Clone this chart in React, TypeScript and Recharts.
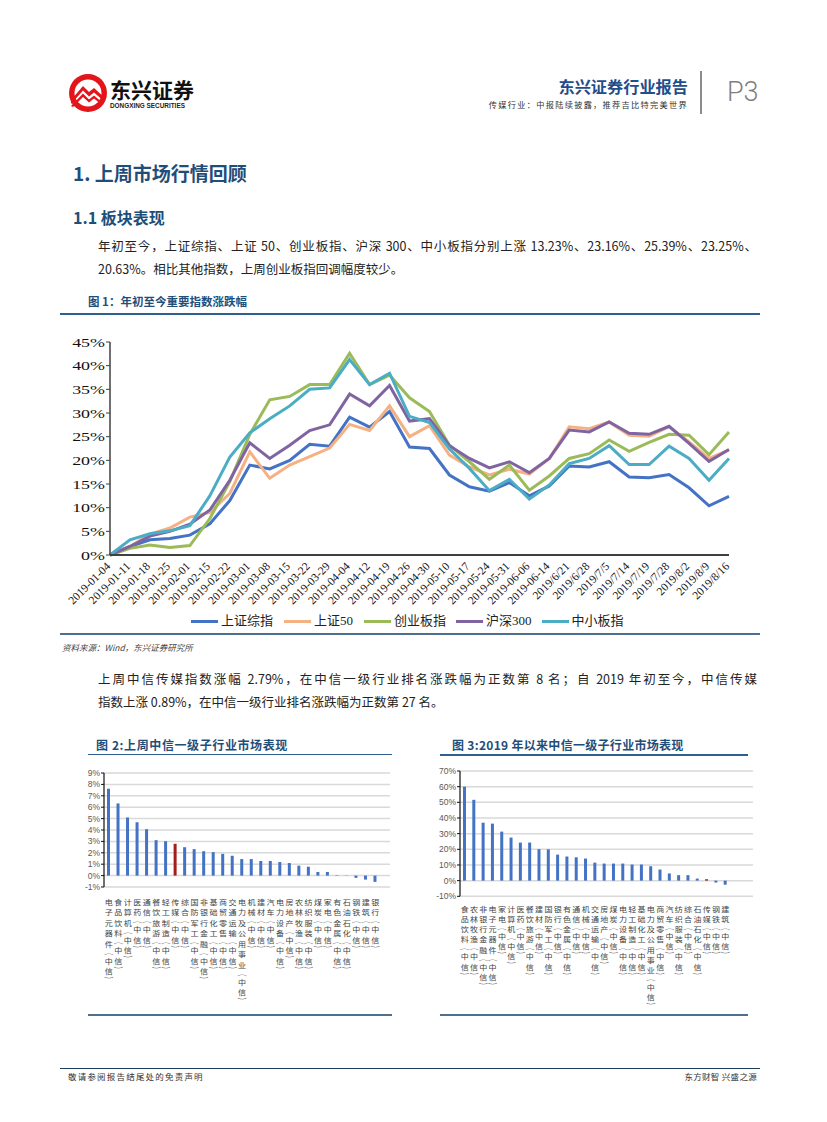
import React from 'react';
import { LineChart, Line, XAxis, YAxis, BarChart, Bar, Cell, CartesianGrid } from 'recharts';

// ---------- Figure 1 data ----------
const dates = [
  '2019-01-04', '2019-01-11', '2019-01-18', '2019-01-25', '2019-02-01', '2019-02-15', '2019-02-22', '2019-03-01',
  '2019-03-08', '2019-03-15', '2019-03-22', '2019-03-29', '2019-04-04', '2019-04-12', '2019-04-19', '2019-04-26',
  '2019-04-30', '2019-05-10', '2019-05-17', '2019-05-24', '2019-05-31', '2019-06-06', '2019-06-14', '2019/6/21',
  '2019/6/28', '2019/7/5', '2019/7/14', '2019/7/19', '2019/7/28', '2019/8/2', '2019/8/9', '2019/8/16',
];
const shComposite = [0, 1.8, 3.2, 3.5, 4.2, 6.6, 11.5, 19.0, 18.2, 20.0, 23.4, 23.0, 29.1, 27.0, 30.3, 22.8, 22.5, 16.9, 14.4, 13.5, 15.3, 12.5, 14.6, 18.8, 18.6, 19.7, 16.5, 16.3, 17.0, 14.2, 10.4, 12.4];
const sse50 = [0, 1.8, 4.4, 5.7, 8.0, 9.0, 13.0, 21.8, 16.2, 19.0, 20.8, 22.6, 27.6, 26.3, 31.5, 25.0, 27.3, 21.1, 18.6, 16.9, 18.1, 17.1, 20.4, 27.1, 26.7, 28.1, 25.3, 25.1, 27.1, 23.9, 20.4, 22.2];
const chinext = [0, 1.4, 2.1, 1.6, 2.0, 7.7, 15.5, 25.5, 32.8, 33.5, 36.0, 36.0, 42.6, 36.0, 38.0, 33.2, 30.3, 23.2, 19.7, 16.0, 19.0, 13.7, 16.7, 20.4, 21.4, 24.3, 21.9, 23.8, 25.5, 25.3, 21.2, 26.0];
const csi300 = [0, 1.8, 4.0, 5.0, 6.5, 9.5, 15.8, 23.7, 20.4, 23.2, 26.3, 27.5, 34.0, 31.5, 35.8, 28.3, 28.8, 23.1, 20.4, 18.4, 19.7, 17.4, 20.4, 26.4, 26.0, 28.1, 25.7, 25.5, 27.2, 23.6, 19.8, 22.3];
const smeIndex = [0, 3.2, 4.5, 5.1, 6.2, 12.5, 20.7, 25.8, 28.8, 31.5, 35.0, 35.3, 41.3, 36.0, 38.4, 29.3, 28.0, 22.4, 18.3, 13.6, 16.0, 11.8, 14.8, 19.3, 20.4, 23.1, 19.1, 19.1, 23.0, 20.4, 15.8, 20.4];

const seriesKeys = ['sh', 'sz50', 'cyb', 'hs300', 'zxb'];
const seriesNames = ['上证综指', '上证50', '创业板指', '沪深300', '中小板指'];
const seriesColors = ['#4472C4', '#F4B183', '#9BBB59', '#8064A2', '#4BACC6'];
const seriesValues = [shComposite, sse50, chinext, csi300, smeIndex];
const mainYTicks = [0, 5, 10, 15, 20, 25, 30, 35, 40, 45];
const mainTickMarks = [0, 2.5, 5, 7.5, 10, 12.5, 15, 17.5, 20, 22.5, 25, 27.5, 30];

// ---------- Figure 2 data ----------
const weekIndustries = ['电子元器件', '食品饮料', '计算机', '医药', '通信', '餐饮旅游', '轻工制造', '传媒', '综合', '国防军工', '非银行金融', '基础化工', '商贸零售', '交通运输', '电力及公用事业', '机械', '建材', '汽车', '电力设备', '房地产', '农林牧渔', '纺织服装', '煤炭', '家电', '有色金属', '石油石化', '钢铁', '建筑', '银行'];
const weekChanges = [7.62, 6.33, 5.1, 4.68, 4.07, 3.11, 3.02, 2.79, 2.49, 2.32, 2.14, 2.06, 1.91, 1.74, 1.45, 1.45, 1.28, 1.28, 1.19, 1.1, 0.87, 0.78, 0.32, 0.32, 0.04, 0.02, -0.2, -0.35, -0.55];
const weekTicks = [-1, 0, 1, 2, 3, 4, 5, 6, 7, 8, 9];

// ---------- Figure 3 data ----------
const ytdIndustries = ['食品饮料', '农林牧渔', '非银行金融', '电子元器件', '家电', '计算机', '医药', '餐饮旅游', '建材', '国防军工', '银行', '有色金属', '通信', '机械', '交通运输', '房地产', '煤炭', '电力设备', '轻工制造', '基础化工', '电力及公用事业', '商贸零售', '汽车', '纺织服装', '综合', '石油石化', '传媒', '钢铁', '建筑'];
const ytdChanges = [60.0, 51.6, 37.0, 36.4, 31.3, 27.5, 24.3, 24.3, 20.1, 20.0, 16.6, 15.4, 14.9, 14.1, 11.5, 10.9, 10.9, 10.9, 10.3, 10.3, 9.2, 7.1, 4.6, 3.5, 3.5, 1.3, 0.89, -1.2, -2.6];
const ytdTicks = [-10, 0, 10, 20, 30, 40, 50, 60, 70];

const highlightIndustry = '传媒';

// ---------- styles ----------
const CJK = '"Noto Sans CJK SC", "Noto Sans", sans-serif';
const SERIF = '"Liberation Serif", "Noto Sans CJK SC", serif';
const SANS = '"Liberation Sans", "Noto Sans CJK SC", sans-serif';
const NAVY = '#1F4E79';
const BAR_BLUE = '#4472C4';
const BAR_RED = '#A31D1D';

const lineData = dates.map((d, i) => {
  const row: any = { date: d };
  seriesKeys.forEach((k, j) => { row[k] = seriesValues[j][i]; });
  return row;
});
const weekData = weekIndustries.map((n, i) => ({ name: n, value: weekChanges[i] }));
const ytdData = ytdIndustries.map((n, i) => ({ name: n, value: ytdChanges[i] }));

function Txt(props: { x?: number; right?: number; y: number; size: number; children: any; style?: any }) {
  const { x, right, y, size, children, style } = props;
  const lh = size * 1.15;
  const pos: any = { position: 'absolute', top: y - lh / 2, height: lh, lineHeight: `${lh}px`, fontSize: size, whiteSpace: 'nowrap', fontFamily: CJK, color: '#222' };
  if (right !== undefined) pos.right = 827 - right; else pos.left = x;
  return <div style={{ ...pos, ...style }}>{children}</div>;
}

function HLine({ x1, x2, y, h, color }: { x1: number; x2: number; y: number; h: number; color: string }) {
  return <div style={{ position: 'absolute', left: x1, top: y - h / 2, width: x2 - x1, height: h, background: color }} />;
}

const DateTick = (props: any) => {
  const { x, y, payload } = props;
  const px = x + 1;
  const py = y + 12;
  return (
    <text x={px} y={py} transform={`rotate(-45 ${px} ${py})`} textAnchor="end" fontFamily={SERIF} fontSize={11.5} fill="#111">
      {payload.value}
    </text>
  );
};

const SerifPctTick = (props: any) => {
  const { x, y, payload } = props;
  return (
    <g transform={`translate(${x},${y}) scale(1.38,1)`}>
      <text x={0} y={0} dy={4.5} textAnchor="end" fontFamily={SERIF} fontSize={13} fill="#111">{payload.value}%</text>
    </g>
  );
};

const SmallPctTick = (props: any) => {
  const { x, y, payload } = props;
  return (
    <text x={x} y={y} dy={3} textAnchor="end" fontFamily={SANS} fontSize={8.5} fill="#595959">{payload.value}%</text>
  );
};

const LABEL_FONT = 7;
const LABEL_SCALE_X = 1.15;

// Category name stacked one character per line (vertical stacked text)
const VerticalLabel = (props: any) => {
  const { x, y, payload, startDy, step } = props;
  const raw = `${payload.value}（中信）`;
  const items: any[] = [];
  let top = y + startDy - step / 2 + 0.2;
  let k = 0;
  for (const ch of raw) {
    if (ch === '（' || ch === '）') {
      const c = top + 3;
      items.push(
        <g key={k++} transform={`translate(${x},${c}) scale(${LABEL_SCALE_X},0.58)`}>
          <text x={0} y={0} textAnchor="middle" dominantBaseline="central" fontFamily={CJK} fontSize={LABEL_FONT + 1} fill="#444">
            {ch === '（' ? '︵' : '︶'}
          </text>
        </g>
      );
      top += 6.5;
      continue;
    }
    const c = top + step / 2 - 0.2;
    items.push(
      <g key={k++} transform={`translate(${x},${c}) scale(${LABEL_SCALE_X},1)`}>
        <text x={0} y={0} textAnchor="middle" dominantBaseline="central" fontFamily={CJK} fontSize={LABEL_FONT} fill="#444">{ch}</text>
      </g>
    );
    top += step;
  }
  return <g>{items}</g>;
};

function IndustryChart(props: { data: any[]; domain: [number, number]; ticks: number[]; width: number; height: number; margin: any; padRight: number; startDy: number; step: number; plotH: number }) {
  const { data, domain, ticks, width, height, margin, padRight, startDy, step, plotH } = props;
  return (
    <BarChart width={width} height={height} data={data} margin={margin} barCategoryGap={0}>
      <CartesianGrid vertical={false} stroke="#D9D9D9" strokeWidth={1.5} />
      <XAxis
        dataKey="name"
        interval={0}
        tickSize={0}
        tickMargin={0}
        axisLine={false}
        tickLine={false}
        padding={{ left: 0, right: padRight }}
        height={height - margin.top - margin.bottom - plotH}
        tick={<VerticalLabel startDy={startDy} step={step} />}
      />
      <YAxis
        domain={domain}
        ticks={ticks}
        interval={0}
        width={40}
        tickSize={3}
        tickMargin={1}
        axisLine={{ stroke: '#111', strokeWidth: 1.2 }}
        tickLine={{ stroke: '#111' }}
        tick={<SmallPctTick />}
      />
      <Bar dataKey="value" barSize={3} isAnimationActive={false}>
        {data.map((d, i) => (
          <Cell key={i} fill={d.name === highlightIndustry ? BAR_RED : BAR_BLUE} />
        ))}
      </Bar>
    </BarChart>
  );
}

function Logo() {
  return (
    <svg width={40} height={40} viewBox="0 0 40 40" style={{ position: 'absolute', left: 68, top: 73 }}>
      <circle cx={20} cy={20} r={19} fill="#E3151B" />
      <circle cx={20} cy={20} r={13.5} fill="#fff" />
      <path d="M3 27 L15 13 L21 19 L26 15 L37 25 L37 29 L26 19.5 L21 23.5 L15 17.5 L3 31 Z" fill="#E3151B" />
      <path d="M3 33 L15 20.5 L21 26.5 L26 22.5 L35 30 L34 32 L26 25.5 L21 29.5 L15 24 L5 34 Z" fill="#E3151B" />
    </svg>
  );
}

export default function App() {
  const legendGaps = [11, 11, 10, 10, 0];
  return (
    <div style={{ position: 'absolute', left: 0, top: 0, width: 827, height: 1122, background: '#fff', overflow: 'hidden', fontFamily: CJK }}>
      {/* Header */}
      <Logo />
      <Txt x={110} y={89.5} size={21} style={{ fontWeight: 700, color: '#111' }}>东兴证券</Txt>
      <Txt x={110} y={106} size={6.4} style={{ fontFamily: SANS, fontWeight: 700, color: '#222' }}>DONGXING SECURITIES</Txt>
      <Txt right={688} y={86.8} size={16.2} style={{ fontWeight: 700, color: '#1F4E8C' }}>东兴证券行业报告</Txt>
      <Txt right={688} y={104.6} size={8.2} style={{ color: '#333', letterSpacing: 1.3 }}>传媒行业：中报陆续披露，推荐吉比特完美世界</Txt>
      <div style={{ position: 'absolute', left: 700, top: 71, width: 1.5, height: 43, background: '#8c8c8c' }} />
      <Txt x={727} y={93} size={27} style={{ fontFamily: '"Roboto", "Liberation Sans", sans-serif', fontWeight: 300, color: '#7f7f7f' }}>P3</Txt>

      {/* Section headings */}
      <Txt x={73} y={173} size={19} style={{ fontWeight: 700, color: NAVY }}>1. 上周市场行情回顾</Txt>
      <Txt x={73} y={217} size={16} style={{ fontWeight: 700, color: NAVY }}>1.1 板块表现</Txt>

      <div style={{ position: 'absolute', left: 98, top: 246 - 8, width: 659, height: 16, fontSize: 12.5, lineHeight: '16px', fontFamily: CJK, color: '#222', textAlign: 'justify', textAlignLast: 'justify', whiteSpace: 'nowrap' } as any}>
        年初至今，上证综指、上证 50、创业板指、沪深 300、中小板指分别上涨 13.23%、23.16%、25.39%、23.25%、
      </div>
      <Txt x={98} y={269} size={12.5}>20.63%。相比其他指数，上周创业板指回调幅度较少。</Txt>

      <Txt x={88} y={302} size={11.5} style={{ fontWeight: 700, color: NAVY }}>图 1：年初至今重要指数涨跌幅</Txt>
      <HLine x1={60} x2={760} y={313.5} h={2} color="#2F5F8F" />

      {/* Figure 1 */}
      <div style={{ position: 'absolute', left: 40, top: 330 }}>
        <LineChart width={720} height={290} data={lineData} margin={{ top: 12, right: 31, left: 10, bottom: 0 }}>
          <XAxis
            xAxisId="marks"
            type="number"
            domain={[0, 32]}
            ticks={mainTickMarks}
            allowDataOverflow
            interval={0}
            tick={false}
            tickSize={4}
            axisLine={false}
            tickLine={{ stroke: '#404040', strokeWidth: 1 }}
            height={0}
          />
          <XAxis
            xAxisId="cat"
            dataKey="date"
            interval={0}
            tickSize={0}
            tickMargin={0}
            tickLine={false}
            axisLine={{ stroke: '#404040', strokeWidth: 2 }}
            height={65}
            tick={<DateTick />}
          />
          <YAxis
            domain={[0, 45]}
            ticks={mainYTicks}
            interval={0}
            width={60}
            tickSize={4}
            tickMargin={1}
            axisLine={{ stroke: '#404040', strokeWidth: 1.5 }}
            tickLine={{ stroke: '#404040' }}
            tick={<SerifPctTick />}
          />
          {seriesKeys.map((k, j) => (
            <Line
              key={k}
              xAxisId="cat"
              type="linear"
              dataKey={k}
              name={seriesNames[j]}
              stroke={seriesColors[j]}
              strokeWidth={3}
              dot={false}
              isAnimationActive={false}
            />
          ))}
        </LineChart>
      </div>

      {/* Legend */}
      <div style={{ position: 'absolute', left: 191, top: 621 - 8, height: 16, display: 'flex', alignItems: 'center' }}>
        {seriesNames.map((n, j) => (
          <div key={n} style={{ display: 'flex', alignItems: 'center', marginRight: legendGaps[j] }}>
            <div style={{ width: 27, height: 3, background: seriesColors[j], marginRight: 3 }} />
            <span style={{ fontFamily: SERIF, fontSize: 13, color: '#222', lineHeight: '16px' }}>{n}</span>
          </div>
        ))}
      </div>
      <HLine x1={60} x2={760} y={634} h={2} color="#4F6F8F" />
      <Txt x={62} y={648} size={8.5} style={{ fontStyle: 'italic', color: '#444' }}>资料来源：Wind，东兴证券研究所</Txt>

      <div style={{ position: 'absolute', left: 98, top: 679 - 8, width: 659, height: 16, fontSize: 12.5, lineHeight: '16px', fontFamily: CJK, color: '#222', textAlign: 'justify', textAlignLast: 'justify', whiteSpace: 'nowrap' } as any}>
        上周中信传媒指数涨幅 2.79%，在中信一级行业排名涨跌幅为正数第 8 名；自 2019 年初至今，中信传媒
      </div>
      <Txt x={98} y={702} size={12.5}>指数上涨 0.89%，在中信一级行业排名涨跌幅为正数第 27 名。</Txt>

      {/* Figure 2 */}
      <Txt x={96} y={745} size={12} style={{ fontWeight: 700, color: NAVY, letterSpacing: 0.6 }}>图 2:上周中信一级子行业市场表现</Txt>
      <HLine x1={88} x2={392} y={754.5} h={1.8} color="#2F5F8F" />
      <div style={{ position: 'absolute', left: 60, top: 760 }}>
        <IndustryChart
          data={weekData}
          domain={[-1, 9]}
          ticks={weekTicks}
          width={340}
          height={255}
          margin={{ top: 13, right: 10, left: 4, bottom: 0 }}
          padRight={10}
          startDy={14.4}
          step={10.5}
          plotH={114}
        />
      </div>
      <HLine x1={88} x2={392} y={1015} h={2} color="#4F6F8F" />

      {/* Figure 3 */}
      <Txt x={452} y={745} size={12} style={{ fontWeight: 700, color: NAVY, letterSpacing: 0.3 }}>图 3:2019 年以来中信一级子行业市场表现</Txt>
      <HLine x1={440} x2={748} y={755} h={1.8} color="#2F5F8F" />
      <div style={{ position: 'absolute', left: 400, top: 760 }}>
        <IndustryChart
          data={ytdData}
          domain={[-10, 70]}
          ticks={ytdTicks}
          width={360}
          height={255}
          margin={{ top: 11, right: 7, left: 20, bottom: 0 }}
          padRight={23}
          startDy={12}
          step={10.3}
          plotH={125.3}
        />
      </div>
      <HLine x1={440} x2={748} y={1015} h={2} color="#4F6F8F" />

      {/* Footer */}
      <HLine x1={60} x2={760} y={1068.5} h={1.5} color="#1F3F5F" />
      <Txt x={68} y={1077} size={8.5} style={{ color: '#333', letterSpacing: 1.2 }}>敬请参阅报告结尾处的免责声明</Txt>
      <Txt right={757} y={1077} size={8.5} style={{ color: '#333', letterSpacing: 0.3 }}>东方财智 兴盛之源</Txt>
    </div>
  );
}
